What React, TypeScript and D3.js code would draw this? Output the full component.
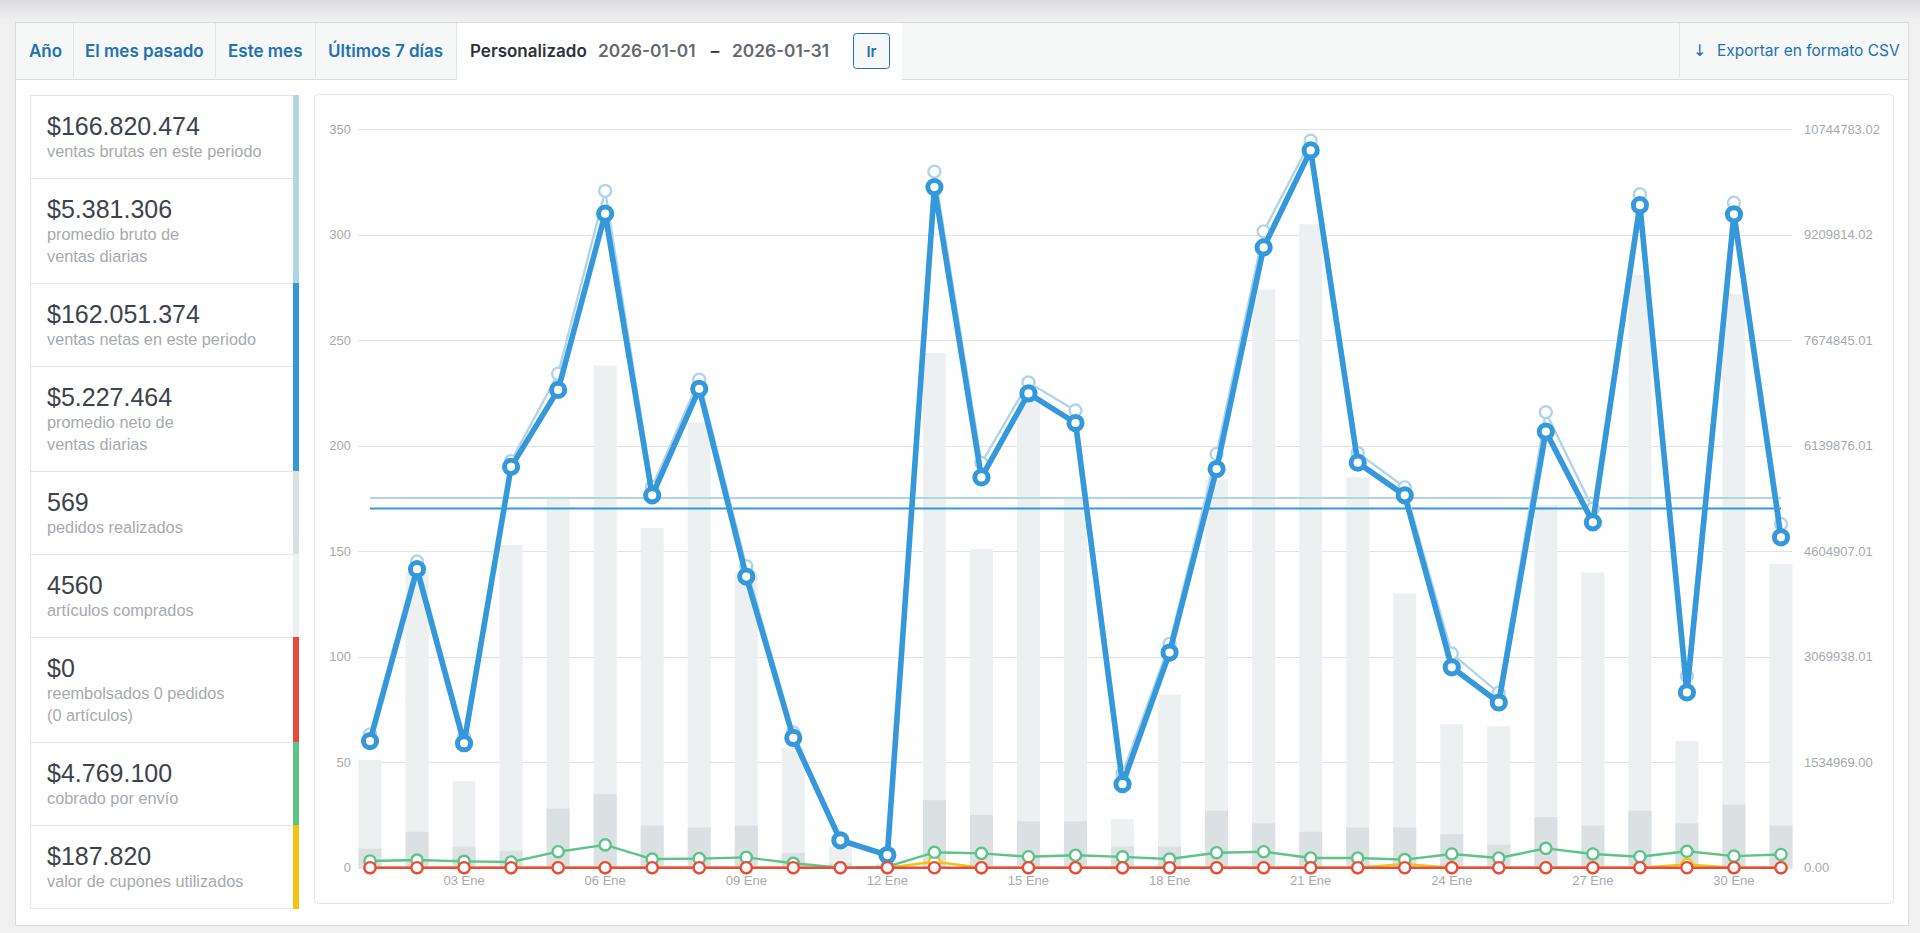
import React from 'react';
import * as d3 from 'd3';

const W = 1920;
const H = 933;

// ---- data ----
const dates = [
  '2026-01-01', '2026-01-02', '2026-01-03', '2026-01-04', '2026-01-05', '2026-01-06', '2026-01-07',
  '2026-01-08', '2026-01-09', '2026-01-10', '2026-01-11', '2026-01-12', '2026-01-13', '2026-01-14',
  '2026-01-15', '2026-01-16', '2026-01-17', '2026-01-18', '2026-01-19', '2026-01-20', '2026-01-21',
  '2026-01-22', '2026-01-23', '2026-01-24', '2026-01-25', '2026-01-26', '2026-01-27', '2026-01-28',
  '2026-01-29', '2026-01-30', '2026-01-31',
];

const itemCounts = [51, 140, 41, 153, 176, 238, 161, 211, 140, 57, 10, 2, 244, 151, 222, 176, 23, 82, 184, 274, 305, 185, 130, 68, 67, 172, 140, 281, 60, 272, 144];
const orderCounts = [9, 17, 10, 8, 28, 35, 20, 19, 20, 7, 2, 1, 32, 25, 22, 22, 10, 10, 27, 21, 17, 19, 19, 16, 11, 24, 20, 27, 21, 30, 20];

const grossSales = [1940000, 4455000, 1903000, 5916000, 7187000, 9848000, 5544000, 7101000, 4387000, 1968000, 399000, 200000, 10128000, 5888000, 7061000, 6653000, 1372000, 3257000, 6020000, 9259000, 10579000, 6036000, 5535000, 3116000, 2545000, 6628000, 5225000, 9799000, 2791000, 9676000, 5001000];
const netSales = [1842000, 4344000, 1811000, 5833000, 6953000, 9517000, 5418000, 6969000, 4237000, 1888000, 399000, 184000, 9904000, 5679000, 6901000, 6471000, 1216000, 3131000, 5802000, 9026000, 10438000, 5894000, 5418000, 2916000, 2404000, 6346000, 5025000, 9640000, 2551000, 9508000, 4808000];
const shipping = [98000, 111000, 92000, 83000, 233000, 332000, 126000, 132000, 150000, 64000, 0, 15000, 224000, 209000, 160000, 181000, 157000, 126000, 218000, 233000, 141000, 141000, 117000, 200000, 141000, 282000, 200000, 160000, 239000, 169000, 193000];
const coupons = [0, 0, 0, 0, 0, 0, 0, 0, 0, 0, 0, 0, 86000, 0, 0, 0, 0, 0, 0, 0, 0, 0, 55000, 0, 0, 0, 0, 0, 46820, 0, 0];
const refunds = [0, 0, 0, 0, 0, 0, 0, 0, 0, 0, 0, 0, 0, 0, 0, 0, 0, 0, 0, 0, 0, 0, 0, 0, 0, 0, 0, 0, 0, 0, 0];

const avgGross = 5381306;
const avgNet = 5227464;

const leftTicks = [0, 50, 100, 150, 200, 250, 300, 350];
const rightTickLabels = ['0.00', '1534969.00', '3069938.01', '4604907.01', '6139876.01', '7674845.01', '9209814.02', '10744783.02'];
const rightMax = 10744783.02;
const xTickDates = ['2026-01-03', '2026-01-06', '2026-01-09', '2026-01-12', '2026-01-15', '2026-01-18', '2026-01-21', '2026-01-24', '2026-01-27', '2026-01-30'];
const monthNames = ['Ene', 'Feb', 'Mar', 'Abr', 'May', 'Jun', 'Jul', 'Ago', 'Sep', 'Oct', 'Nov', 'Dic'];

const statValues = ['$166.820.474', '$5.381.306', '$162.051.374', '$5.227.464', '569', '4560', '$0', '$4.769.100', '$187.820'];
const statLabels = [
  ['ventas brutas en este periodo'],
  ['promedio bruto de', 'ventas diarias'],
  ['ventas netas en este periodo'],
  ['promedio neto de', 'ventas diarias'],
  ['pedidos realizados'],
  ['artículos comprados'],
  ['reembolsados 0 pedidos', '(0 artículos)'],
  ['cobrado por envío'],
  ['valor de cupones utilizados'],
];
const statColors = ['#b1d4ea', '#b1d4ea', '#3498db', '#3498db', '#dbe1e3', '#ecf0f1', '#e74c3c', '#5cc488', '#f1c40f'];

const tabs = [
  { label: 'Año', x: 29 },
  { label: 'El mes pasado', x: 85 },
  { label: 'Este mes', x: 228 },
  { label: 'Últimos 7 días', x: 328 },
];
const tabSeparators = [73.5, 215.5, 315.5];

const UI = 'Inter, "Noto Sans", sans-serif';
const HV = '"Liberation Sans", Arial, sans-serif';

const parse = d3.timeParse('%Y-%m-%d');

export default function App() {
  const days = dates.map((d) => parse(d) as Date);
  const x = d3.scaleTime().domain([days[0], days[days.length - 1]]).range([370, 1781]);
  const yL = d3.scaleLinear().domain([0, 350]).range([867.7, 129.3]);
  const yR = d3.scaleLinear().domain([0, rightMax]).range([867.7, 129.3]);
  const barW = 23;
  const gridX0 = 358;
  const gridX1 = 1792;

  const line = (vals: number[]) =>
    d3.line<number>().x((_, i) => x(days[i])).y((v) => yR(v))(vals) || '';

  const series = [
    { vals: coupons, color: '#f1c40f', lw: 2.4, r: 5.6, plw: 2.4 },
    { vals: shipping, color: '#5cc488', lw: 2.4, r: 5.6, plw: 2.4 },
    { vals: grossSales, color: '#b1d4ea', lw: 2.4, r: 6, plw: 2.4 },
    { vals: netSales, color: '#3498db', lw: 5.6, r: 6.6, plw: 5 },
    { vals: refunds, color: '#e74c3c', lw: 2.4, r: 5.6, plw: 2.4 },
  ];

  // sidebar geometry
  const sbX = 30;
  const sbR = 293;
  let cy = 95;
  const stats = statValues.map((v, i) => {
    const h = statLabels[i].length > 1 ? 105 : 83;
    const s = { v, labels: statLabels[i], color: statColors[i], top: cy, h };
    cy += h;
    return s;
  });

  return (
    <div style={{ position: 'fixed', left: 0, top: 0, width: W, height: H, background: '#f0f0f1' }}>
      <svg width={W} height={H} style={{ display: 'block' }}>
        <defs>
          <linearGradient id="topShade" x1="0" y1="0" x2="0" y2="1">
            <stop offset="0" stopColor="#dcdcde" />
            <stop offset="1" stopColor="#f0f0f1" />
          </linearGradient>
        </defs>
        <rect x={0} y={0} width={W} height={20} fill="url(#topShade)" />

        {/* outer box */}
        <rect x={15.5} y={22.5} width={1893} height={903} fill="#fff" stroke="#dcdcde" />

        {/* tab bar */}
        <rect x={16} y={23} width={1892} height={56} fill="#f6f7f7" />
        <line x1={16} x2={1908} y1={79.5} y2={79.5} stroke="#dcdcde" />
        <rect x={456} y={23} width={446} height={57} fill="#fff" />
        {tabSeparators.map((sx) => (
          <line key={sx} x1={sx} x2={sx} y1={23} y2={77} stroke="#e2e4e7" />
        ))}
        <line x1={456.5} x2={456.5} y1={23} y2={80} stroke="#e2e4e7" />
        <line x1={1679.5} x2={1679.5} y1={23} y2={77} stroke="#e2e4e7" />
        {tabs.map((t) => (
          <text key={t.label} x={t.x} y={56.5} fontFamily={UI} fontSize={17} fontWeight={600} fill="#2271b1">
            {t.label}
          </text>
        ))}
        <text x={470} y={56.5} fontFamily={UI} fontSize={17} fontWeight={600} fill="#2c3338">Personalizado</text>
        <text x={598} y={56.5} fontFamily={UI} fontSize={17.3} fontWeight={600} fill="#646970">2026-01-01</text>
        <text x={715} y={56.5} fontFamily={UI} fontSize={17} fontWeight={600} fill="#2c3338" textAnchor="middle">–</text>
        <text x={732} y={56.5} fontFamily={UI} fontSize={17.3} fontWeight={600} fill="#646970">2026-01-31</text>
        <rect x={853.5} y={33.5} width={36} height={35} rx={3} fill="#f6f7f7" stroke="#2271b1" />
        <text x={871.5} y={56.5} fontFamily={UI} fontSize={15} fontWeight={600} fill="#2271b1" textAnchor="middle">Ir</text>
        <text x={1693} y={56} fontFamily='"DejaVu Sans", sans-serif' fontSize={16} fill="#2271b1">↓</text>
        <text x={1717} y={56} fontFamily={UI} fontSize={15.5} fill="#2271b1">Exportar en formato CSV</text>

        {/* sidebar */}
        {stats.map((s, i) => (
          <g key={i}>
            <rect x={sbX + 0.5} y={s.top + 0.5} width={sbR - sbX} height={s.h} fill="#fff" stroke="#e4e6e8" />
            <rect x={sbR} y={s.top} width={6} height={s.h + 1} fill={s.color} />
            <text x={47} y={s.top + 40} fontFamily={HV} fontSize={25} fill="#3c434a">{s.v}</text>
            {s.labels.map((l, j) => (
              <text key={j} x={47} y={s.top + 62 + j * 22} fontFamily={HV} fontSize={16.3} fill="#a7aaad">{l}</text>
            ))}
          </g>
        ))}

        {/* chart panel */}
        <rect x={314.5} y={94.5} width={1579} height={809} rx={4} fill="#fff" stroke="#e4e6e8" />

        {/* grid + y axes */}
        {leftTicks.map((t) => (
          <g key={t}>
            <line x1={gridX0} x2={gridX1} y1={Math.round(yL(t)) + 0.5} y2={Math.round(yL(t)) + 0.5} stroke="#dfe3e6" />
            <text x={351} y={yL(t) + 4.5} textAnchor="end" fontFamily={HV} fontSize={13} fill="#a7aaad">{t}</text>
          </g>
        ))}
        {rightTickLabels.map((lab, i) => (
          <text key={lab} x={1804} y={yL(leftTicks[i]) + 4.5} fontFamily={HV} fontSize={13} fill="#a7aaad">{lab}</text>
        ))}

        {/* x labels */}
        {xTickDates.map((d) => {
          const dt = parse(d) as Date;
          return (
            <text key={d} x={x(dt)} y={885} textAnchor="middle" fontFamily={HV} fontSize={13} fill="#a7aaad">
              {d3.timeFormat('%d')(dt) + ' ' + monthNames[dt.getMonth()]}
            </text>
          );
        })}

        {/* bars */}
        {itemCounts.map((v, i) => (
          <rect key={'it' + i} x={x(days[i]) - barW / 2} y={yL(v)} width={barW} height={yL(0) - yL(v)} fill="#ecf0f1" />
        ))}
        {orderCounts.map((v, i) => (
          <rect key={'or' + i} x={x(days[i]) - barW / 2} y={yL(v)} width={barW} height={yL(0) - yL(v)} fill="#dbe1e3" />
        ))}

        {/* averages */}
        <line x1={x(days[0])} x2={x(days[days.length - 1])} y1={yR(avgGross)} y2={yR(avgGross)} stroke="#b1d4ea" strokeWidth={2} />
        <line x1={x(days[0])} x2={x(days[days.length - 1])} y1={yR(avgNet)} y2={yR(avgNet)} stroke="#3498db" strokeWidth={2} />

        {/* lines + points */}
        {series.map((s, k) => (
          <g key={k}>
            <path d={line(s.vals)} fill="none" stroke={s.color} strokeWidth={s.lw} strokeLinejoin="round" />
            {s.vals.map((v, i) => (
              <circle key={i} cx={x(days[i])} cy={yR(v)} r={s.r} fill="#fff" stroke={s.color} strokeWidth={s.plw} />
            ))}
          </g>
        ))}
      </svg>
    </div>
  );
}
